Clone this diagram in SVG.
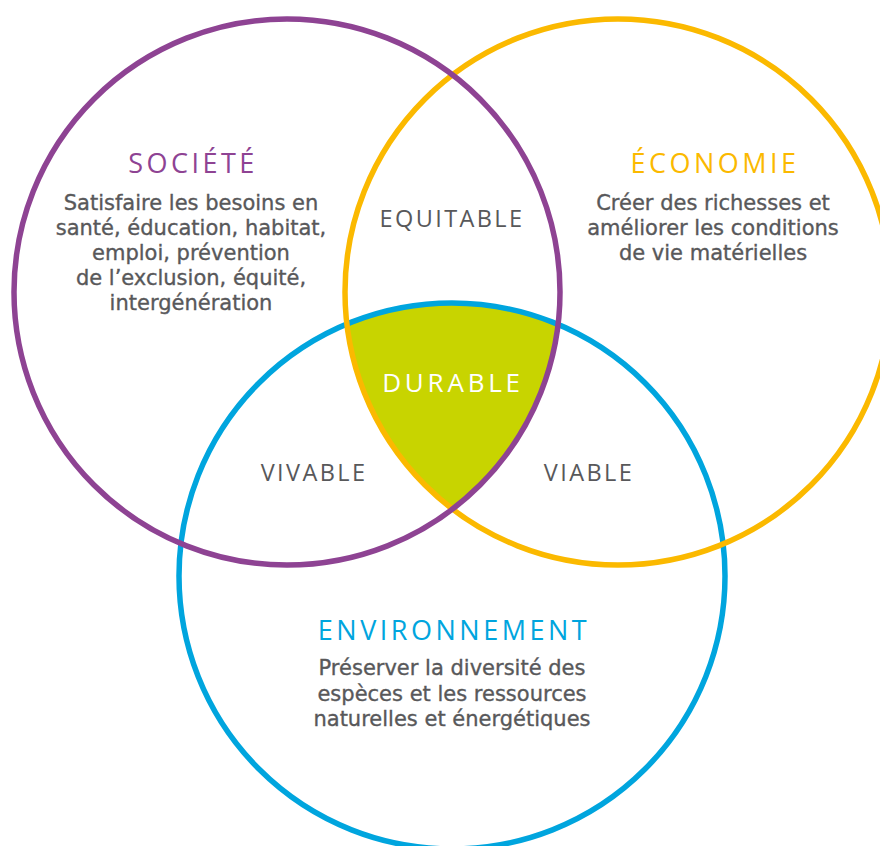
<svg xmlns="http://www.w3.org/2000/svg" width="880" height="846" viewBox="0 0 880 846">
<style>
.ring{fill:none;stroke-width:5.5}
.head{font-family:"Open Sans","Liberation Sans",sans-serif;font-size:27px;letter-spacing:3.5px;text-anchor:middle}
.body{font-family:"DejaVu Sans","Liberation Sans",sans-serif;font-size:21px;fill:#58585a;stroke:#58585a;stroke-width:0.35px;text-anchor:middle}
.lab{font-family:"Open Sans","Liberation Sans",sans-serif;font-size:23.5px;letter-spacing:2.4px;fill:#58585a;text-anchor:middle}
.dur{font-family:"Open Sans","Liberation Sans",sans-serif;font-size:26px;letter-spacing:3.8px;fill:#fff;text-anchor:middle}
</style>
<defs>
<clipPath id="cS"><circle cx="287" cy="292" r="273"/></clipPath>
<clipPath id="cE"><circle cx="618" cy="292" r="273"/></clipPath>
</defs>
<rect width="880" height="846" fill="#fff"/>
<g id="durable">
<g clip-path="url(#cS)"><g clip-path="url(#cE)"><circle cx="452" cy="576" r="273" fill="#c8d400"/></g></g>
</g>
<g id="connectors">
<circle id="ring-env" class="ring" cx="452" cy="576" r="273" stroke="#00a5de"/>
<circle id="ring-eco" class="ring" cx="618" cy="292" r="273" stroke="#fbb900"/>
<circle id="ring-soc" class="ring" cx="287" cy="292" r="273" stroke="#8e4393"/>
</g>
<g id="societe">
<text class="head" x="193" y="173" fill="#8e4393">SOCIÉTÉ</text>
<text class="body" x="191" y="210">Satisfaire les besoins en</text>
<text class="body" x="191" y="235">santé, éducation, habitat,</text>
<text class="body" x="191" y="260">emploi, prévention</text>
<text class="body" x="191" y="285">de l’exclusion, équité,</text>
<text class="body" x="191" y="310">intergénération</text>
</g>
<g id="economie">
<text class="head" x="715" y="173" fill="#fbb900">ÉCONOMIE</text>
<text class="body" x="713" y="210">Créer des richesses et</text>
<text class="body" x="713" y="235">améliorer les conditions</text>
<text class="body" x="713" y="260">de vie matérielles</text>
</g>
<g id="environnement">
<text class="head" x="454" y="640" fill="#00a5de">ENVIRONNEMENT</text>
<text class="body" x="452" y="675">Préserver la diversité des</text>
<text class="body" x="452" y="701">espèces et les ressources</text>
<text class="body" x="452" y="726">naturelles et énergétiques</text>
</g>
<g id="equitable"><text class="lab" x="452" y="227">EQUITABLE</text></g>
<g id="durable-label"><text class="dur" x="453" y="392">DURABLE</text></g>
<g id="vivable"><text class="lab" x="314" y="481">VIVABLE</text></g>
<g id="viable"><text class="lab" x="589" y="481">VIABLE</text></g>
</svg>
